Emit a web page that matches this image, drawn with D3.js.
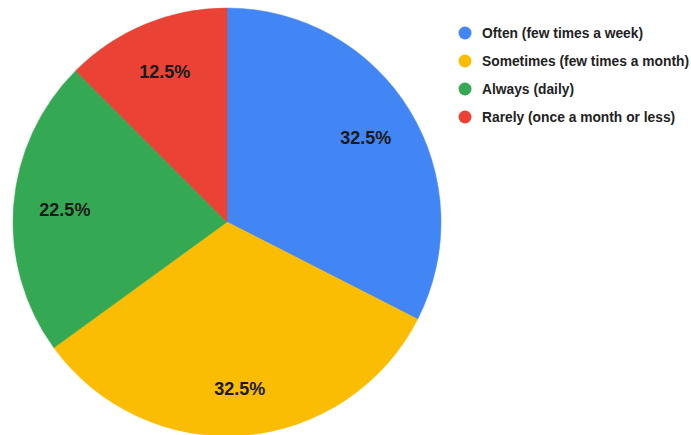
<!DOCTYPE html>
<html>
<head>
<meta charset="utf-8">
<script src="https://cdn.jsdelivr.net/npm/d3@7"></script>
<style>
  html, body { margin: 0; padding: 0; background: #fff; }
  svg { display: block; }
</style>
</head>
<body>
<svg id="chart" width="691" height="435"></svg>
<script>
// Survey responses: how often the activity happens
const categories = [
  "Often (few times a week)",
  "Sometimes (few times a month)",
  "Always (daily)",
  "Rarely (once a month or less)"
];
const shares = [32.5, 32.5, 22.5, 12.5];
const colors = ["#4285F4", "#FBBC04", "#34A853", "#EA4335"];

const svg = d3.select("#chart");
const cx = 227, cy = 222, radius = 214;

const data = categories.map((c, i) => ({ category: c, value: shares[i], color: colors[i] }));

const pie = d3.pie().value(d => d.value).sort(null);
const arc = d3.arc().innerRadius(0).outerRadius(radius);
const labelArc = d3.arc().innerRadius(radius * 0.76).outerRadius(radius * 0.76);

const g = svg.append("g").attr("transform", `translate(${cx},${cy})`);
const arcs = pie(data);

g.selectAll("path.slice")
  .data(arcs)
  .join("path")
  .attr("class", "slice")
  .attr("d", arc)
  .attr("fill", d => d.data.color)
  .attr("stroke", d => d.data.color)
  .attr("stroke-width", 0.5);

// Percentage labels; lower-half labels sit a little further out
g.selectAll("text.pct")
  .data(arcs)
  .join("text")
  .attr("class", "pct")
  .attr("transform", d => {
    const [x, y] = labelArc.centroid(d);
    return `translate(${x},${y + (y > 0 ? 4 : 0)})`;
  })
  .attr("text-anchor", "middle")
  .attr("dy", "0.36em")
  .attr("font-family", "Liberation Sans, Arial, sans-serif")
  .attr("font-weight", "bold")
  .attr("font-size", 18)
  .attr("fill", "#1a1a1a")
  .text(d => d3.format(".1f")(d.data.value) + "%");

// Legend
const legend = svg.append("g").attr("transform", "translate(465,33)");
const rows = legend.selectAll("g.row")
  .data(data)
  .join("g")
  .attr("class", "row")
  .attr("transform", (d, i) => `translate(0,${i * 28})`);

rows.append("circle")
  .attr("r", 6.5)
  .attr("fill", d => d.color);

rows.append("text")
  .attr("x", 17)
  .attr("dy", "0.36em")
  .attr("font-family", "Liberation Sans, Arial, sans-serif")
  .attr("font-weight", "bold")
  .attr("font-size", 13.8)
  .attr("fill", "#222")
  .text(d => d.category);
</script>
</body>
</html>
